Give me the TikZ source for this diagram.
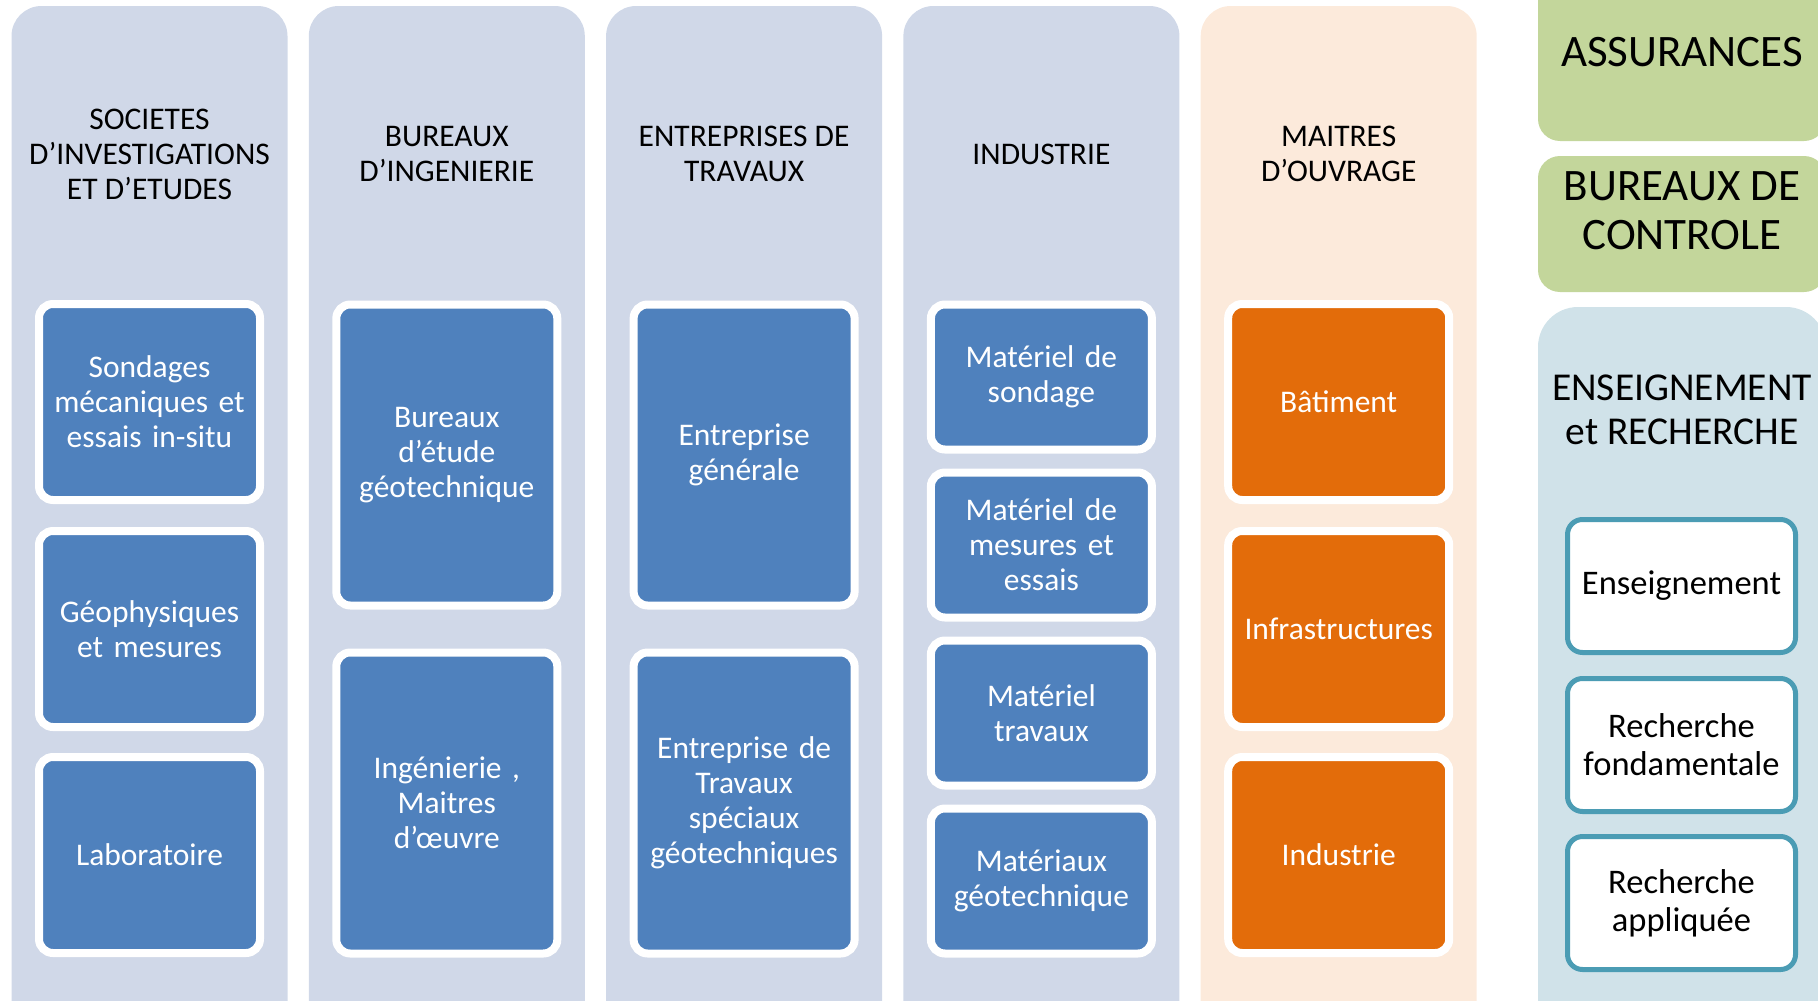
\documentclass[tikz,border=0pt]{standalone}
\usepackage{fontspec}
\setmainfont{Carlito}
\definecolor{colbg}{RGB}{208,216,232}
\definecolor{boxblue}{RGB}{79,129,189}
\definecolor{orangebg}{RGB}{252,234,219}
\definecolor{boxorange}{RGB}{227,108,10}
\definecolor{greenbg}{RGB}{195,214,155}
\definecolor{lightbluebg}{RGB}{208,226,233}
\definecolor{tealline}{RGB}{75,156,180}
\tikzset{column/.style={rounded corners=30pt, minimum width=276pt, minimum height=1040pt, inner sep=0pt}}
\tikzset{header/.style={align=center, font=\fontsize{31.5}{35}\selectfont}}
\tikzset{bigheader/.style={align=center, font=\fontsize{45}{49}\selectfont}}
\tikzset{subbox/.style={draw=white, line width=8pt, rounded corners=14pt, minimum width=221pt, text width=210pt, align=center, inner sep=0pt, text=white, font=\fontsize{31.5}{35}\selectfont}}
\tikzset{tealbox/.style={draw=tealline, fill=white, line width=5pt, rounded corners=15pt, minimum width=228pt, minimum height=133pt, text width=220pt, align=center, inner sep=0pt, font=\fontsize{34.5}{38}\selectfont}}

\begin{document}
\begin{tikzpicture}[x=1pt,y=-1pt]
    \useasboundingbox (0,0) rectangle (1818,1001);
    \clip (0,0) rectangle (1818,1001);
    \node[column, fill=colbg] (societes) at (149.5,526) {};
    \node[column, fill=colbg] (bureaux) at (446.8,526) {};
    \node[column, fill=colbg] (entreprises) at (744.1,526) {};
    \node[column, fill=colbg] (industrie) at (1041.4,526) {};
    \node[column, fill=orangebg] (maitres) at (1338.7,526) {};
    \node[header] (societestitle) at (149.5,154) {SOCIETES\\D’INVESTIGATIONS\\ET D’ETUDES};
    \node[header] (bureauxtitle) at (446.8,154) {BUREAUX\\D’INGENIERIE};
    \node[header] (entreprisestitle) at (744.1,154) {ENTREPRISES DE\\TRAVAUX};
    \node[header] (industrietitle) at (1041.4,154) {INDUSTRIE};
    \node[header] (maitrestitle) at (1338.7,154) {MAITRES\\D’OUVRAGE};
    \node[subbox, fill=boxblue, minimum height=196pt] (sondages) at (149.5,402) {Sondages\\mécaniques et\\essais in-situ};
    \node[subbox, fill=boxblue, minimum height=196pt] (geophysique) at (149.5,629) {Géophysiques\\et mesures};
    \node[subbox, fill=boxblue, minimum height=196pt] (laboratoire) at (149.5,855) {Laboratoire};
    \node[subbox, fill=boxblue, minimum height=301pt] (etude) at (446.8,455) {Bureaux\\d’étude\\géotechnique};
    \node[subbox, fill=boxblue, minimum height=301pt] (ingenierie) at (446.8,803) {Ingénierie ,\\Maitres\\d’œuvre};
    \node[subbox, fill=boxblue, minimum height=301pt] (generale) at (744.1,455) {Entreprise\\générale};
    \node[subbox, fill=boxblue, minimum height=301pt] (speciaux) at (744.1,803) {Entreprise de\\Travaux\\spéciaux\\géotechniques};
    \node[subbox, fill=boxblue, minimum height=145pt] (matsondage) at (1041.4,377) {Matériel de\\sondage};
    \node[subbox, fill=boxblue, minimum height=145pt] (matmesures) at (1041.4,545) {Matériel de\\mesures et\\essais};
    \node[subbox, fill=boxblue, minimum height=145pt] (mattravaux) at (1041.4,713) {Matériel\\travaux};
    \node[subbox, fill=boxblue, minimum height=145pt] (materiaux) at (1041.4,881) {Matériaux\\géotechnique};
    \node[subbox, fill=boxorange, minimum height=196pt] (batiment) at (1338.7,402) {Bâtiment};
    \node[subbox, fill=boxorange, minimum height=196pt] (infra) at (1338.7,629) {Infrastructures};
    \node[subbox, fill=boxorange, minimum height=196pt] (indus) at (1338.7,855) {Industrie};
    \fill[greenbg, rounded corners=22pt] (1538,-40) rectangle (1826,141);
    \fill[greenbg, rounded corners=22pt] (1538,156) rectangle (1826,292);
    \fill[lightbluebg, rounded corners=40pt] (1538,307) rectangle (1826,1040);
    \node[bigheader] (assurances) at (1682,52) {ASSURANCES};
    \node[bigheader] (controle) at (1682,211) {BUREAUX DE\\CONTROLE};
    \node[bigheader, font=\fontsize{39.5}{44}\selectfont] (recherche) at (1682,410) {ENSEIGNEMENT\\et RECHERCHE};
    \node[tealbox] (enseignement) at (1681.5,586) {Enseignement};
    \node[tealbox] (fondamentale) at (1681.5,745) {Recherche\\fondamentale};
    \node[tealbox] (appliquee) at (1681.5,903) {Recherche\\appliquée};
\end{tikzpicture}
\end{document}
